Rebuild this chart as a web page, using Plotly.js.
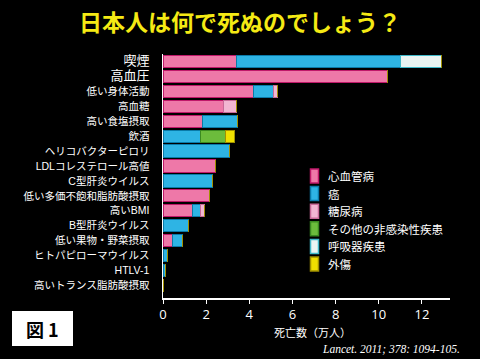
<!DOCTYPE html>
<html><head><meta charset="utf-8">
<script src="https://cdn.plot.ly/plotly-3.0.1.min.js"></script>
<style>html,body{margin:0;padding:0;background:#000;}#chart{width:480px;height:359px;}</style>
</head><body><div id="chart"></div>
<script>
const categories = ["喫煙","高血圧","低い身体活動","高血糖","高い食塩摂取","飲酒","ヘリコバクターピロリ","LDLコレステロール高値","C型肝炎ウイルス","低い多価不飽和脂肪酸摂取","高いBMI","B型肝炎ウイルス","低い果物・野菜摂取","ヒトパピローマウイルス","HTLV-1","高いトランス脂肪酸摂取"];
const cvd         = [3.4, 10.4, 4.2, 2.8, 1.85, 0,    0,    2.45, 0,   2.16, 1.38, 0,    0.45, 0,    0,    0.01];
const cancer      = [7.6, 0,    0.9, 0,   1.6,  1.75, 3.09, 0,    2.3, 0,    0.34, 1.16, 0.47, 0.23, 0.12, 0];
const diabetes    = [0,   0,    0.2, 0.6, 0,    0,    0,    0,    0,   0,    0.18, 0,    0,    0,    0,    0];
const otherNCD    = [0,   0,    0,   0,   0,    1.15, 0,    0,    0,   0,    0,    0,    0,    0,    0,    0];
const respiratory = [1.9, 0,    0,   0,   0,    0,    0,    0,    0,   0,    0,    0,    0,    0,    0,    0];
const injury      = [0,   0,    0,   0,   0,    0.4,  0,    0,    0,   0,    0,    0,    0,    0,    0,    0];
const seriesNames = ["心血管病","癌","糖尿病","その他の非感染性疾患","呼吸器疾患","外傷"];
const xTicks = [0,2,4,6,8,10,12];

const fills = ["#ee78a8","#2eb4e4","#f2b6d2","#6cbc3c","#eaf4f2","#f0e000"];
const edges = ["#c0186a","#0a7aa8","#c86a98","#3a8a20","#40b8c8","#a09000"];
const vals = [cvd, cancer, diabetes, otherNCD, respiratory, injury];

const bigLabels = {"喫煙":1,"高血圧":1};
const tickText = categories.map(c => bigLabels[c] ? '<span style="font-size:13px">'+c+'</span>' : c);

const traces = vals.map((v,i) => ({
  type:"bar", orientation:"h", name:seriesNames[i],
  y: categories, x: v,
  marker:{color:fills[i], line:{color:edges[i], width:1}},
  hoverinfo:"none", showlegend:false
}));

// plot area geometry (px)
const L=163, R=30, T=54, B=61, W=480-L-R, H=359-T-B;
const px = x => (x-L)/W, py = y => (359-B-y)/H;

const annotations = [
  {text:"死亡数（万人）", x:px(312), y:py(332), xanchor:"center", font:{size:11, color:"#fff", family:"Noto Sans CJK JP"}},
  {text:"<i>Lancet. 2011; 378: 1094-105.</i>", x:px(462), y:py(349), xanchor:"right", font:{size:11.5, color:"#fff", family:"Liberation Serif"}},
  {text:"<b>図 1</b>", x:px(42), y:py(329), xanchor:"center", font:{size:18, color:"#000", family:"Noto Sans CJK JP"}}
];
const shapes = [
  {type:"rect", x0:px(12), x1:px(73), y0:py(311), y1:py(346), fillcolor:"#fff", line:{width:0}, layer:"below"}
];
// legend (manual, keyed to series)
seriesNames.forEach((n,i) => {
  const cy = 176 + i*17.6;
  shapes.push({type:"rect", x0:px(310.5), x1:px(318.5), y0:py(cy-7), y1:py(cy+7), fillcolor:fills[i], line:{color:edges[i], width:1.5}});
  annotations.push({text:n, x:px(326), y:py(cy), xanchor:"left", font:{size:11.5, color:"#fff", family:"Noto Sans CJK JP"}});
});
annotations.forEach(a => Object.assign(a, {xref:"paper", yref:"paper", yanchor:"middle", showarrow:false}));
shapes.forEach(s => Object.assign(s, {xref:"paper", yref:"paper"}));

const layout = {
  width:480, height:359,
  paper_bgcolor:"#000", plot_bgcolor:"#000",
  margin:{l:L, r:R, t:T, b:B},
  barmode:"stack", bargap:0.18,
  font:{family:"Noto Sans CJK JP, sans-serif", color:"#fff"},
  title:{text:"<b>日本人は何で死ぬのでしょう？</b>", font:{size:23, color:"#f5ea14", family:"Noto Sans CJK JP"}, x:0.5, xanchor:"center", y:1-23/359, yanchor:"middle"},
  xaxis:{range:[0,13.3], tickvals:xTicks, ticktext:xTicks.map(String), showgrid:false, zeroline:false,
    showline:true, linecolor:"#fff", linewidth:1.5, ticks:"outside", ticklen:4, tickcolor:"#fff",
    tickfont:{size:13, color:"#fff", family:"Open Sans, sans-serif"}},
  yaxis:{type:"category", categoryorder:"array", categoryarray:categories, range:[15.84,-0.5],
    tickvals:categories, ticktext:tickText, showgrid:false, zeroline:false,
    showline:true, linecolor:"#fff", linewidth:1.5, ticks:"outside", ticklen:10, tickcolor:"rgba(0,0,0,0)",
    tickfont:{size:10.5, color:"#fff", family:"Liberation Sans, Noto Sans CJK JP"}},
  annotations, shapes,
  showlegend:false
};
Plotly.newPlot("chart", traces, layout, {displayModeBar:false, staticPlot:true});
</script></body></html>
